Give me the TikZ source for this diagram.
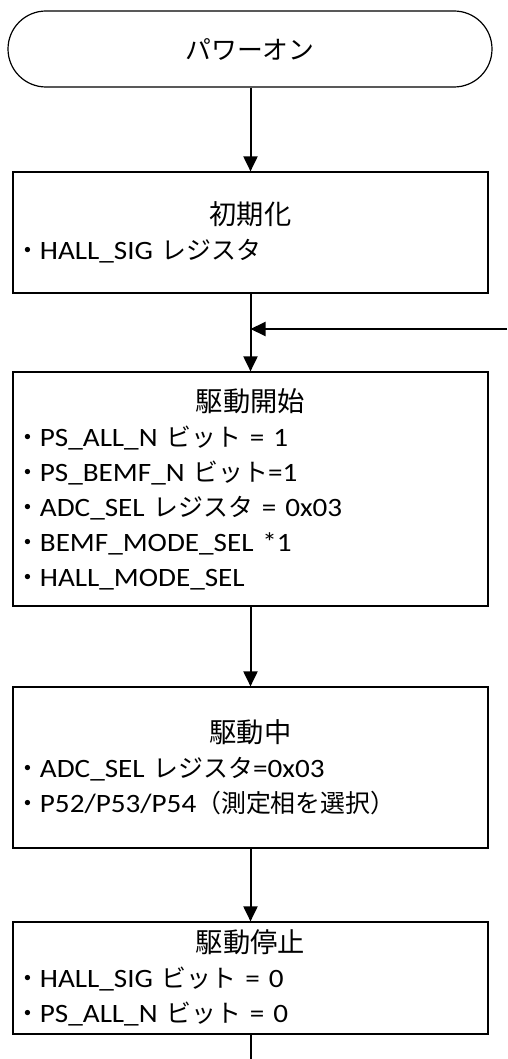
\documentclass[tikz,border=0pt]{standalone}
\usepackage{fontspec}
\setmainfont{Carlito}[FakeStretch=1.1, WordSpace=0.55]
\newfontfamily\jpfont{Noto Sans CJK JP}[Scale=0.94]
\newcommand{\jp}[1]{{\jpfont #1}}
\newcommand{\ttl}[1]{\makebox[471pt]{\fontsize{29}{35}\jpfont #1}}
\usetikzlibrary{positioning, arrows.meta}
\definecolor{InkBlack}{HTML}{000000}

\begin{document}
\begin{tikzpicture}[x=1pt, y=-1pt,
    font=\fontsize{26.5}{35}\selectfont,
    termbox/.style={draw=InkBlack, line width=1.2pt, rounded corners=38pt,
                    minimum width=484pt, minimum height=76pt,
                    font=\fontsize{27.5}{35}\selectfont},
    stepbox/.style={draw=InkBlack, line width=1.2pt, minimum width=475pt,
                    text width=471pt, inner xsep=2pt, align=left},
    flow/.style={draw=InkBlack, line width=2pt, -{Triangle[length=15pt, width=14pt]}}]
  \useasboundingbox (0,0) rectangle (507,1059);

  \node[termbox] (power) at (250,49) {\jp{パワーオン}};

  \node[stepbox, minimum height=121pt] (init) at (250.5,232.5)
    {\ttl{初期化}\\
     \jp{・}HALL\_SIG \jp{レジスタ}};

  \node[stepbox, minimum height=234pt] (start) at (250.5,489)
    {\ttl{駆動開始}\\
     \jp{・}PS\_ALL\_N \jp{ビット} = 1\\
     \jp{・}PS\_BEMF\_N \jp{ビット}=1\\
     \jp{・}ADC\_SEL \jp{レジスタ} = 0x03\\
     \jp{・}BEMF\_MODE\_SEL *1\\
     \jp{・}HALL\_MODE\_SEL};

  \node[stepbox, minimum height=161pt] (run) at (250.5,767.5)
    {\ttl{駆動中}\\
     \jp{・}ADC\_SEL \jp{レジスタ}=0x03\\
     \jp{・}P52/P53/P54\jp{（測定相を選択）}};

  \node[stepbox, minimum height=112pt] (stop) at (250.5,978)
    {\ttl{駆動停止}\\
     \jp{・}HALL\_SIG \jp{ビット} = 0\\
     \jp{・}PS\_ALL\_N \jp{ビット} = 0};

  % loop return and open end
  \coordinate (join) at (250.5,329);
  \coordinate (loopin) at (507,329);
  \coordinate (tail) at (250.5,1059);

  \draw[flow] (power.south -| init.north) -- (init.north);
  \draw[flow] (init.south) -- (start.north);
  \draw[flow] (loopin) -- (join);
  \draw[flow] (start.south) -- (run.north);
  \draw[flow] (run.south) -- (stop.north);
  \draw[draw=InkBlack, line width=2pt] (stop.south) -- (tail);
\end{tikzpicture}
\end{document}
